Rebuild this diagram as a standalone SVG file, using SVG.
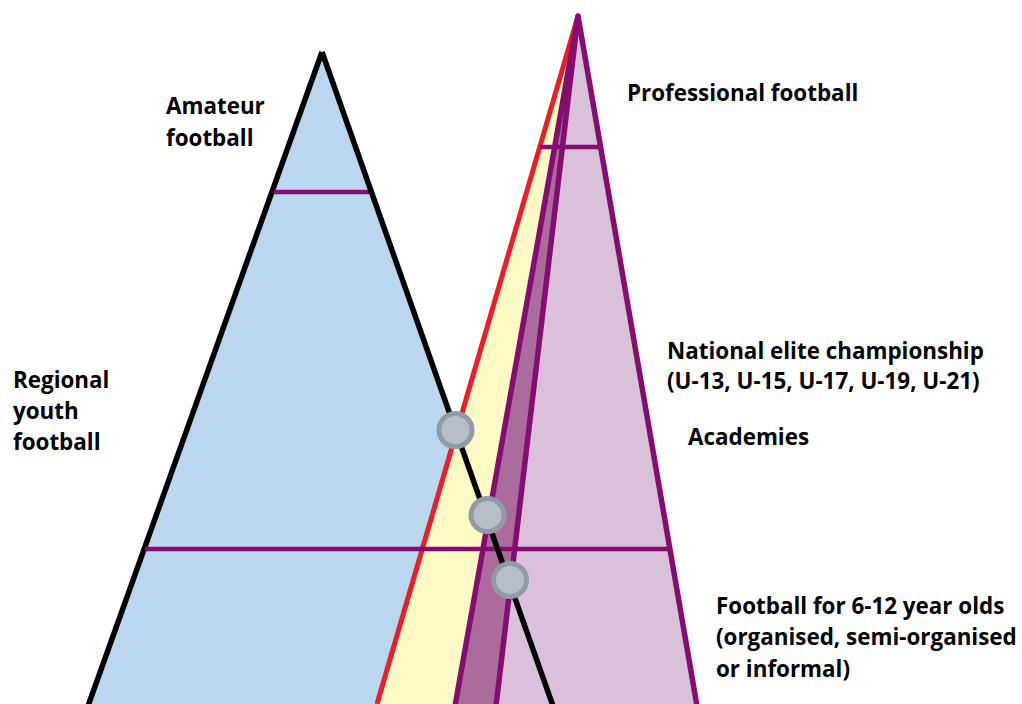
<svg xmlns="http://www.w3.org/2000/svg" width="1022" height="704" viewBox="0 0 1022 704">
<style>
.lbl{font-family:"Open Sans","Noto Sans","Liberation Sans",sans-serif;font-weight:bold;font-size:22.4px;fill:#000}
.hl{stroke:#850D72;stroke-width:4.5;fill:none}
.pur{stroke:#850D72;stroke-width:5.5;fill:none;stroke-linejoin:round}
.dot{fill:#B8BEC6;stroke:#8F9BA6;stroke-width:5}
</style>
<rect width="1022" height="704" fill="#fff"/>
<g id="amateur-pyramid">
<polygon points="322,52 88,704 553,704" fill="#BAD7EF"/>
<polyline points="88,706 322,52" fill="none" stroke="#000" stroke-width="5.5" stroke-linejoin="miter"/>
</g>
<g id="professional-pyramid">
<polygon points="578,16 377,704 455,704" fill="#FFF9C6"/>
<polygon points="578,16 496,704 697,704" fill="#DAC1D9"/>
<polygon points="578,16 455,704 496,704" fill="#AB6B9D"/>
<line x1="578" y1="16" x2="377" y2="704" stroke="#EE1C25" stroke-width="5"/>
<polyline class="pur" points="455,706 578,16 496,706"/>
<polyline class="pur" points="578,16 697,706"/>
</g>
<g id="levels">
<line class="hl" x1="274" y1="192" x2="370" y2="192"/>
<line class="hl" x1="540" y1="147" x2="601" y2="147"/>
<line class="hl" x1="145" y1="549" x2="669" y2="549"/>
</g>
<g id="connectors">
<line x1="322" y1="52" x2="553" y2="706" stroke="#000" stroke-width="5.5"/>
</g>
<g id="transitions">
<circle class="dot" cx="455.5" cy="430" r="16.5"/>
<circle class="dot" cx="487.5" cy="515" r="16.5"/>
<circle class="dot" cx="510" cy="580" r="16.5"/>
</g>
<g id="labels">
<text class="lbl" x="627" y="101">Professional football</text>
<text class="lbl" x="166" y="114">Amateur</text>
<text class="lbl" x="166" y="146">football</text>
<text class="lbl" x="13" y="388">Regional</text>
<text class="lbl" x="13" y="419">youth</text>
<text class="lbl" x="13" y="450">football</text>
<text class="lbl" x="667" y="359">National elite championship</text>
<text class="lbl" x="667" y="389">(U-13, U-15, U-17, U-19, U-21)</text>
<text class="lbl" x="688" y="445">Academies</text>
<text class="lbl" x="716" y="614">Football for 6-12 year olds</text>
<text class="lbl" x="716" y="645">(organised, semi-organised</text>
<text class="lbl" x="716" y="677">or informal)</text>
</g>
</svg>
